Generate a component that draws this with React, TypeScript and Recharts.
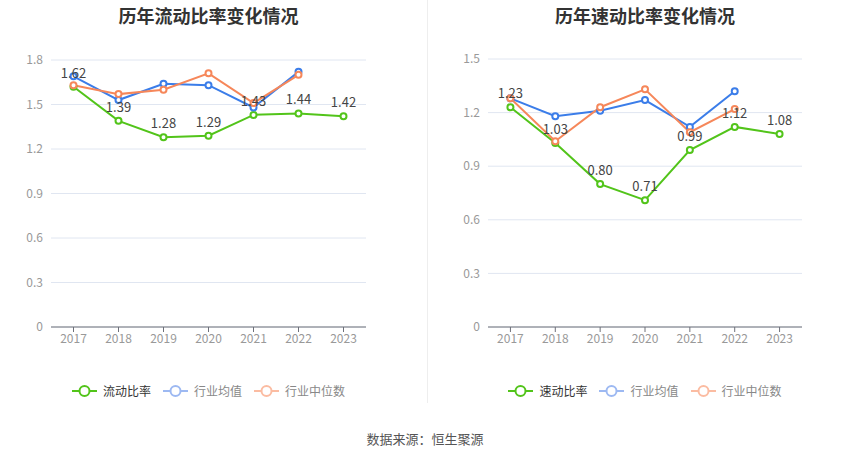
import React from "react"
import { LineChart, Line, XAxis, YAxis, CartesianGrid, LabelList } from "recharts"

const YEARS = ["2017", "2018", "2019", "2020", "2021", "2022", "2023"]

// 流动比率
const CURRENT_RATIO = [1.62, 1.39, 1.28, 1.29, 1.43, 1.44, 1.42]
const CURRENT_AVG = [1.69, 1.53, 1.64, 1.63, 1.48, 1.72, null]
const CURRENT_MEDIAN = [1.63, 1.57, 1.6, 1.71, 1.51, 1.7, null]
const CURRENT_TICKS = [0, 0.3, 0.6, 0.9, 1.2, 1.5, 1.8]

// 速动比率
const QUICK_RATIO = [1.23, 1.03, 0.8, 0.71, 0.99, 1.12, 1.08]
const QUICK_AVG = [1.28, 1.18, 1.21, 1.27, 1.12, 1.32, null]
const QUICK_MEDIAN = [1.28, 1.04, 1.23, 1.33, 1.09, 1.22, null]
const QUICK_TICKS = [0, 0.3, 0.6, 0.9, 1.2, 1.5]

const GREEN = "#52c41a"
const BLUE = "#3b7de9"
const ORANGE = "#f6875a"
const FONT = '"Noto Sans CJK SC", "Noto Sans", sans-serif'

function buildRows(main: number[], avg: (number | null)[], median: (number | null)[]) {
  return YEARS.map((year, i) => ({ year, main: main[i], avg: avg[i], median: median[i] }))
}

function LegendIcon({ color }: { color: string }) {
  return (
    <svg width={25} height={14} style={{ display: "block" }}>
      <line x1={0} y1={7} x2={25} y2={7} stroke={color} strokeWidth={2} />
      <circle cx={12.5} cy={7} r={5} fill="#fff" stroke={color} strokeWidth={2} />
    </svg>
  )
}

function ChartLegend({ mainName }: { mainName: string }) {
  const items = [
    { name: mainName, icon: GREEN, text: "#333" },
    { name: "行业均值", icon: "#9db9f2", text: "#888" },
    { name: "行业中位数", icon: "#fbbca2", text: "#888" },
  ]
  return (
    <div style={{ display: "flex", justifyContent: "center", gap: 12, fontSize: 12, fontFamily: FONT }}>
      {items.map((it) => (
        <div key={it.name} style={{ display: "flex", alignItems: "center", gap: 6, color: it.text }}>
          <LegendIcon color={it.icon} />
          <span>{it.name}</span>
        </div>
      ))}
    </div>
  )
}

function RatioPanel({
  title, mainName, rows, ticks, marginLeft, marginRight, top,
}: {
  title: string
  mainName: string
  rows: { year: string; main: number; avg: number | null; median: number | null }[]
  ticks: number[]
  marginLeft: number
  marginRight: number
  top: number
}) {
  const plotWidth = 425 - marginLeft - marginRight
  const plotCenter = marginLeft + plotWidth / 2
  const pad = plotWidth / YEARS.length / 2
  return (
    <div style={{ position: "relative", width: 425, height: 459 }}>
      <div
        style={{
          position: "absolute", top: 2, left: plotCenter - 212.5, width: 425, textAlign: "center",
          fontSize: 18, fontWeight: "bold", color: "#333", fontFamily: FONT,
        }}
      >
        {title}
      </div>
      <div style={{ position: "absolute", top: 0, left: 0 }}>
        <LineChart
          width={425}
          height={360}
          data={rows}
          margin={{ top, right: marginRight, left: 0, bottom: 3 }}
        >
          <CartesianGrid vertical={false} stroke="#e0e6f1" />
          <XAxis
            dataKey="year"
            height={30}
            padding={{ left: pad, right: pad }}
            tick={{ fill: "#999", fontSize: 12, fontFamily: FONT }}
            axisLine={{ stroke: "#6e7079" }}
            tickLine={{ stroke: "#6e7079" }}
            tickSize={5}
          />
          <YAxis
            width={marginLeft}
            domain={[ticks[0], ticks[ticks.length - 1]]}
            ticks={ticks}
            tick={{ fill: "#999", fontSize: 12, fontFamily: FONT }}
            axisLine={false}
            tickLine={false}
          />
          <Line
            dataKey="main"
            stroke={GREEN}
            strokeWidth={2}
            dot={{ r: 3, fill: "#fff", stroke: GREEN, strokeWidth: 2 }}
            isAnimationActive={false}
          >
            <LabelList
              dataKey="main"
              position="top"
              offset={9}
              formatter={(v: number) => v.toFixed(2)}
              style={{ fill: "#444", fontSize: 13, fontFamily: FONT }}
            />
          </Line>
          <Line
            dataKey="avg"
            stroke={BLUE}
            strokeWidth={2}
            dot={{ r: 3, fill: "#fff", stroke: BLUE, strokeWidth: 2 }}
            isAnimationActive={false}
          />
          <Line
            dataKey="median"
            stroke={ORANGE}
            strokeWidth={2}
            dot={{ r: 3, fill: "#fff", stroke: ORANGE, strokeWidth: 2 }}
            isAnimationActive={false}
          />
        </LineChart>
      </div>
      <div style={{ position: "absolute", top: 382, left: plotCenter - 212.5, width: 425 }}>
        <ChartLegend mainName={mainName} />
      </div>
    </div>
  )
}

export default function App() {
  return (
    <div style={{ position: "absolute", top: 0, left: 0, width: 850, height: 459, background: "#fff" }}>
      <div style={{ display: "flex" }}>
        <RatioPanel
          title="历年流动比率变化情况"
          mainName="流动比率"
          rows={buildRows(CURRENT_RATIO, CURRENT_AVG, CURRENT_MEDIAN)}
          ticks={CURRENT_TICKS}
          marginLeft={51}
          marginRight={59}
          top={60}
        />
        <RatioPanel
          title="历年速动比率变化情况"
          mainName="速动比率"
          rows={buildRows(QUICK_RATIO, QUICK_AVG, QUICK_MEDIAN)}
          ticks={QUICK_TICKS}
          marginLeft={63}
          marginRight={48}
          top={59}
        />
      </div>
      <div style={{ position: "absolute", left: 427, top: 0, width: 1, height: 403, background: "#eeeeee" }} />
      <div
        style={{
          position: "absolute", top: 429, left: 0, width: 850, textAlign: "center",
          fontSize: 13, color: "#555", fontFamily: FONT,
        }}
      >
        数据来源：恒生聚源
      </div>
    </div>
  )
}
